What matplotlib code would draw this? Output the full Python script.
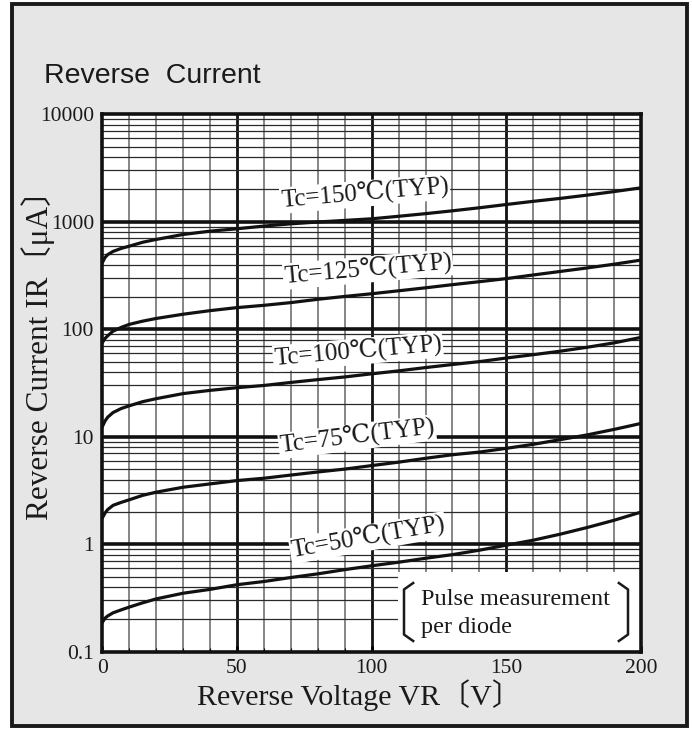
import numpy as np
import matplotlib
matplotlib.use("Agg")
import matplotlib.pyplot as plt
from matplotlib.patches import Rectangle
from matplotlib.lines import Line2D

# ---------------- data ----------------
voltage = [0, 1, 2, 4, 7, 10, 15, 20, 30, 40, 50, 60, 70, 80, 90, 100,
           110, 120, 130, 140, 150, 160, 170, 180, 190, 200]

tc150 = [416, 465, 495, 530, 565, 593, 645, 685, 762, 818, 861, 912, 957, 995,
         1030, 1066, 1125, 1190, 1265, 1350, 1448, 1550, 1650, 1770, 1910, 2070]
tc125 = [75, 82, 87, 96, 104, 111, 119, 126, 138, 149, 159, 167, 177, 190,
         202, 214, 228, 243, 260, 277, 296, 320, 345, 372, 403, 440]
tc100 = [12.4, 14, 15.2, 16.8, 18.3, 19.4, 21.2, 22.6, 25.2, 27, 28.6, 30, 32,
         34, 36, 38.5, 41, 44, 47, 50, 54, 58, 62.5, 68, 74.7, 84]
tc75 = [1.75, 1.95, 2.1, 2.3, 2.45, 2.59, 2.85, 3.05, 3.39, 3.64, 3.91, 4.11,
        4.4, 4.7, 5.0, 5.39, 5.8, 6.3, 6.8, 7.2, 7.8, 8.5, 9.4, 10.4, 11.7, 13.3]
tc50 = [0.187, 0.205, 0.215, 0.23, 0.245, 0.26, 0.285, 0.31, 0.35, 0.38, 0.42,
        0.45, 0.49, 0.53, 0.58, 0.63, 0.68, 0.74, 0.80, 0.88, 0.98, 1.09, 1.24,
        1.43, 1.67, 1.99]

series = [tc150, tc125, tc100, tc75, tc50]
labels = ["Tc=150℃(TYP)", "Tc=125℃(TYP)", "Tc=100℃(TYP)", "Tc=75℃(TYP)", "Tc=50℃(TYP)"]
label_x = [97.5, 98.6, 94.9, 94.6, 98.6]
label_y = [1833, 360, 62, 10.0, 1.15]
label_rot = [5, 5, 5, 7, 10]

x_ticks = [0, 50, 100, 150, 200]
y_ticks = [0.1, 1, 10, 100, 1000, 10000]
y_ticklabels = ["0.1", "1", "10", "100", "1000", "10000"]

note_lines = ["Pulse measurement", "per diode"]

SERIF = ["Liberation Serif", "DejaVu Serif", "Noto Sans CJK JP"]

# ---------------- figure ----------------
W, H = 692, 729
fig = plt.figure(figsize=(W / 100, H / 100), dpi=100, facecolor="white")

def fx(px):
    return px / W

def fy(py):
    return 1 - py / H

# frame
fig.patches.append(Rectangle((fx(12), fy(726)), fx(687) - fx(12), fy(3.5) - fy(726),
                             transform=fig.transFigure, facecolor="#e6e6e6",
                             edgecolor="#1a1a1a", linewidth=2.8, zorder=-5))

ax_l, ax_r, ax_t, ax_b = 102.3, 641, 114.3, 651.7
ax = fig.add_axes([fx(ax_l), fy(ax_b), fx(ax_r) - fx(ax_l), fy(ax_t) - fy(ax_b)])
ax.set_zorder(2)
ax.set_facecolor("white")
ax.set_yscale("log")
ax.set_xlim(0, 200)
ax.set_ylim(0.1, 10000)

def ay(py):
    return (ax_b - py) / (ax_b - ax_t)

def axx(px):
    return (px - ax_l) / (ax_r - ax_l)

# grid (drawn manually so the note box can cover it)
for v in np.arange(10, 200, 10):
    if v % 50 == 0:
        ax.axvline(v, color="#111111", lw=2.0, zorder=1)
    else:
        ax.axvline(v, color="#666666", lw=1.1, zorder=1)
for dec in [0.1, 1, 10, 100, 1000]:
    for k in range(2, 10):
        ax.axhline(dec * k, color="#2a2a2a", lw=0.9, zorder=1)
for dec in [1, 10, 100, 1000]:
    ax.axhline(dec, color="#111111", lw=2.6, zorder=1)

# note box (white) covering grid
ax.add_patch(Rectangle((axx(398), 0.0), 1 - axx(398), ay(572), transform=ax.transAxes,
                       facecolor="white", edgecolor="none", zorder=2))

# curves
for s in series:
    ax.plot(voltage, s, color="#111111", lw=2.3, zorder=3, solid_capstyle="round")

# curve labels
for t, lx, ly, r in zip(labels, label_x, label_y, label_rot):
    ax.text(lx, ly, t, family=SERIF, fontsize=18, rotation=r, rotation_mode="anchor",
            ha="center", va="center", color="#1a1a1a", zorder=4,
            bbox=dict(facecolor="white", edgecolor="none", pad=0.8))

# ticks
ax.set_xticks(x_ticks)
ax.set_xticklabels([str(v) for v in x_ticks])
ax.set_xticks(np.arange(0, 201, 10), minor=True)
ax.set_yticks(y_ticks)
ax.set_yticklabels(y_ticklabels)
ax.yaxis.set_minor_locator(matplotlib.ticker.NullLocator())
ax.tick_params(axis="x", which="major", direction="in", length=4, width=2,
               pad=5, labelsize=15.5)
ax.tick_params(axis="x", which="minor", direction="in", length=3, width=0.8)
ax.tick_params(axis="y", which="major", length=0, pad=6, labelsize=15.5)
for lab in ax.get_xticklabels() + ax.get_yticklabels():
    lab.set_family(SERIF)
    lab.set_color("#1a1a1a")
for sp in ax.spines.values():
    sp.set_linewidth(2.6)
    sp.set_color("#111111")
    sp.set_zorder(5)

# note text
for line, py in zip(note_lines, [605, 633]):
    ax.text(axx(421), ay(py), line, transform=ax.transAxes,
            family=SERIF, fontsize=17.5, ha="left", va="baseline",
            color="#1a1a1a", zorder=4)

# brackets of note
def bracket(x0, hook, y_top, y_bot):
    xs = [x0 + hook, x0, x0, x0 + hook]
    ys = [y_top, y_top - 0.012, y_bot + 0.012, y_bot]
    ax.add_line(Line2D(xs, ys, transform=ax.transAxes, color="#1a1a1a",
                       lw=1.8, zorder=4))

bracket(axx(404), 0.017, ay(583), ay(641))
bracket(axx(628), -0.017, ay(583), ay(641))

# titles
fig.text(fx(44), fy(83), "Reverse  Current", family=["Liberation Sans", "DejaVu Sans"],
         fontsize=20.5, ha="left", va="baseline", color="#1a1a1a")
fig.text(fx(359), fy(695), "Reverse Voltage VR〔V〕", family=SERIF, fontsize=21.6,
         ha="center", va="center", color="#1a1a1a")
fig.text(fx(38), fy(347), "Reverse Current IR〔μA〕", family=SERIF, fontsize=22.5,
         ha="center", va="center", rotation=90, color="#1a1a1a")

fig.savefig("out.png", dpi=100, facecolor="white")
